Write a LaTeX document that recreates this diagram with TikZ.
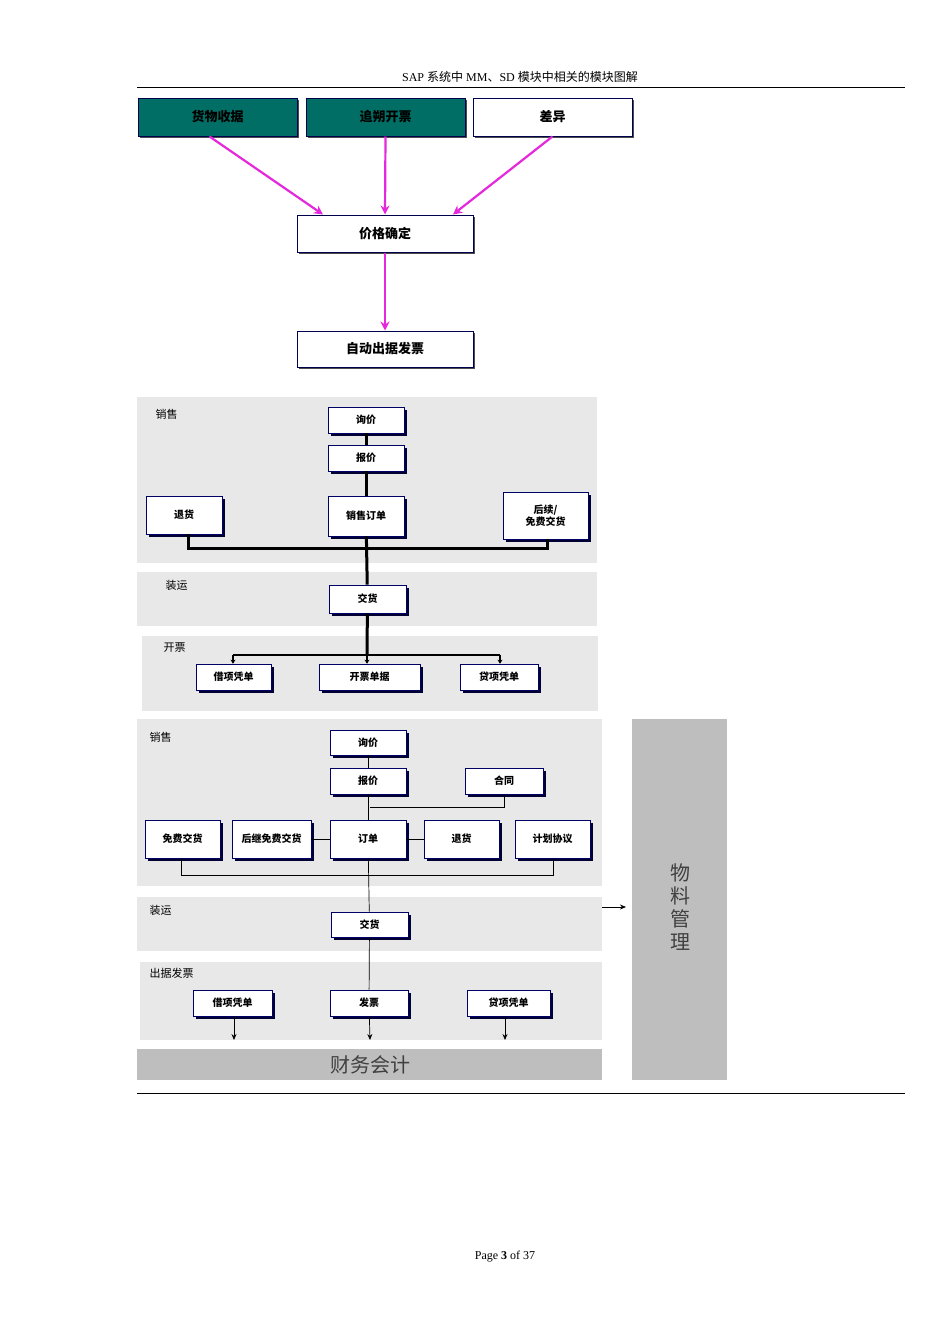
\documentclass[tikz,border=0pt]{standalone}
\usepackage{fontspec}
\setmainfont{Liberation Serif}
\newfontfamily\cjk{Noto Sans CJK SC}
\usetikzlibrary{shadows,arrows.meta}
\definecolor{teal1}{RGB}{0,110,100}
\definecolor{mag}{RGB}{230,40,220}
\definecolor{panel}{RGB}{232,232,232}
\definecolor{dpanel}{RGB}{190,190,190}
\tikzset{
 box/.style={draw=blue!40!black,line width=0.6pt,fill=white,inner sep=1pt,align=center,font=\cjk\bfseries\fontsize{10}{12}\selectfont,
   drop shadow={shadow xshift=3pt,shadow yshift=-3pt,fill=blue!20!black,opacity=1}},
 tbox/.style={draw=blue!30!black,line width=1pt,fill=white,font=\cjk\bfseries\fontsize{13}{15}\selectfont,
   drop shadow={shadow xshift=2pt,shadow yshift=-2pt,fill=black!70,opacity=1}},
 teal/.style={tbox,fill=teal1},
 marr/.style={mag,line width=2.2pt,-{Stealth[length=9pt,width=9pt]}},
 bus/.style={line width=3pt},
 thin/.style={line width=0.7pt},
 sarr/.style={thin,-{Stealth[length=6pt,width=5pt]}},
 lbl/.style={anchor=west,font=\cjk\fontsize{11}{13}\selectfont},
}
\newcommand\bx[7][box]{\node[#1,minimum width={(#5-#3)*1pt},minimum height={(#6-#4)*1pt}] (#2) at ({(#3+#5)/2},{(#4+#6)/2}) {#7};}
\begin{document}
\begin{tikzpicture}[x=1pt,y=-1pt]
\useasboundingbox (0,0) rectangle (950,1344);
% header/footer
\node[font=\fontsize{12}{14}\selectfont] (hd) at (520,77) {SAP {\cjk 系统中} MM{\cjk 、}SD {\cjk 模块中相关的模块图解}};
\draw[line width=0.8pt] (137,87) -- (905,87);
\draw[line width=0.8pt] (137,1093) -- (905,1093);
\node[font=\fontsize{12}{14}\selectfont] (pg) at (505,1257) {Page \textbf{3} of 37};
% top
\bx[teal]{a1}{138}{98}{297}{136}{货物收据}
\bx[teal]{a2}{306}{98}{465}{136}{追朔开票}
\bx[tbox]{a3}{473}{98}{632}{136}{差异}
\bx[tbox]{pc}{297}{215}{473}{252}{价格确定}
\bx[tbox]{ai}{297}{331}{473}{367}{自动出据发票}
\draw[marr] (a1.south) ++(-8,0) -- ([xshift=-62]pc.north);
\draw[marr] (a2.south) -- (pc.north);
\draw[marr] (a3.south) -- ([xshift=68]pc.north);
\draw[marr] (pc.south) -- (ai.north);
% middle
\fill[panel] (137,397) rectangle (597,563);
\fill[panel] (137,572) rectangle (597,626);
\fill[panel] (142,636) rectangle (598,711);
\node[lbl] (l1) at (152,414) {销售};
\node[lbl] (l2) at (162,585) {装运};
\node[lbl] (l3) at (160,648) {开票};
\bx{m1}{328}{407}{404}{433}{询价}
\bx{m2}{328}{445}{404}{471}{报价}
\bx{m3}{328}{496}{404}{536}{销售订单}
\bx{m4}{146}{496}{222}{534}{退货}
\bx{m5}{503}{492}{588}{539}{后续/\\免费交货}
\bx{m6}{329}{585}{406}{613}{交货}
\bx{m7}{196}{664}{271}{690}{借项凭单}
\bx{m8}{319}{664}{420}{690}{开票单据}
\bx{m9}{460}{664}{538}{690}{贷项凭单}
\coordinate (b1) at (188,548); \coordinate (b2) at (547,548);
\coordinate (c1) at (367,548); \coordinate (c2) at (367,655);
\coordinate (d1) at (233,655); \coordinate (d3) at (500,655);
\draw[bus] (m1) -- (m2); \draw[bus] (m2) -- (m3); \draw[bus] (m3) -- (m6);
\draw[bus] (m4.south -| b1) |- (c1) -| (m5.south -| b2);
\draw[bus] (m6) -- (c2);
\draw[line width=2.5pt] (d1) -- (d3);
\draw[line width=1.5pt,-{Stealth[length=4pt,width=5pt]}] (d1) -- (m7.north -| d1);
\draw[line width=1.5pt,-{Stealth[length=4pt,width=5pt]}] (c2) -- (m8.north -| c2);
\draw[line width=1.5pt,-{Stealth[length=4pt,width=5pt]}] (d3) -- (m9.north -| d3);
% bottom
\fill[panel] (137,719) rectangle (602,886);
\fill[panel] (137,897) rectangle (602,951);
\fill[panel] (140,962) rectangle (602,1040);
\fill[dpanel] (137,1049) rectangle (602,1080);
\fill[dpanel] (632,719) rectangle (727,1080);
\node[font=\cjk\fontsize{20}{22}\selectfont,text=black!75] (fa) at (370,1065) {财务会计};
\node[font=\cjk\fontsize{20}{23}\selectfont,text=black!75,align=center] (mm) at (680,907) {物\\料\\管\\理};
\node[lbl] (n1) at (146,737) {销售};
\node[lbl] (n2) at (146,910) {装运};
\node[lbl] (n3) at (146,973) {出据发票};
\bx{q1}{330}{730}{406}{755}{询价}
\bx{q2}{330}{768}{406}{794}{报价}
\bx{q3}{465}{768}{543}{794}{合同}
\bx{q4}{145}{820}{220}{858}{免费交货}
\bx{q5}{232}{820}{311}{858}{后继免费交货}
\bx{q6}{330}{820}{406}{858}{订单}
\bx{q7}{424}{820}{499}{858}{退货}
\bx{q8}{515}{820}{590}{858}{计划协议}
\bx{q9}{331}{912}{408}{937}{交货}
\bx{q10}{193}{990}{272}{1016}{借项凭单}
\bx{q11}{330}{990}{408}{1016}{发票}
\bx{q12}{467}{990}{550}{1016}{贷项凭单}
\coordinate (e1) at (370,807);
\coordinate (f1) at (181,875); \coordinate (f2) at (553,875);
\coordinate (g1) at (234,1040); \coordinate (g2) at (370,1040); \coordinate (g3) at (505,1040);
\draw[thin] (q1) -- (q2); \draw[thin] (q2) -- (q6);
\draw[thin] (e1) -| (q3.south);
\draw[thin] (q5) -- (q6); \draw[thin] (q6) -- (q7);
\draw[thin] (q4.south -| f1) |- (f2) -- (q8.south -| f2);
\draw[thin] (q6) -- (q9); \draw[thin] (q9) -- (q11);
\draw[sarr] (q10.south -| g1) -- (g1);
\draw[sarr] (q11) -- (g2);
\draw[sarr] (q12.south -| g3) -- (g3);
\coordinate (h1) at (602,907);
\draw[sarr] (h1) -- (mm.west -| 626,907);
\end{tikzpicture}
\end{document}
